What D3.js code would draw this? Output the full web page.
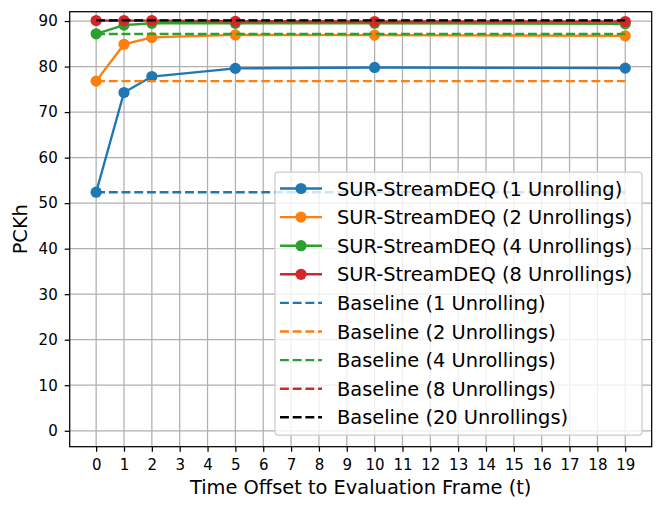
<!DOCTYPE html>
<html>
<head>
<meta charset="utf-8">
<script src="https://cdn.jsdelivr.net/npm/d3@7"></script>
<style>
  body { margin: 0; background: #fff; }
  svg { font-family: "DejaVu Sans", sans-serif; }
</style>
</head>
<body>
<div id="chart"></div>
<script>
"use strict";

// === DATA ===
const offsets = [0, 1, 2, 5, 10, 19];
const sur1 = [52.4, 74.3, 77.8, 79.6, 79.8, 79.65];
const sur2 = [76.8, 84.9, 86.4, 86.95, 86.9, 86.75];
const sur4 = [87.2, 89.1, 89.5, 89.5, 89.5, 89.4];
const sur8 = [90.1, 90.1, 90.1, 89.95, 89.9, 89.9];
const baselineValues = [52.4, 76.8, 87.15, 90.1, 90.15];
const xTicks = d3.range(0, 20);
const yTicks = [0, 10, 20, 30, 40, 50, 60, 70, 80, 90];

const surNames = ["SUR-StreamDEQ (1 Unrolling)", "SUR-StreamDEQ (2 Unrollings)",
  "SUR-StreamDEQ (4 Unrollings)", "SUR-StreamDEQ (8 Unrollings)"];
const baseNames = ["Baseline (1 Unrolling)", "Baseline (2 Unrollings)",
  "Baseline (4 Unrollings)", "Baseline (8 Unrollings)", "Baseline (20 Unrollings)"];
const colors = ["#1f77b4", "#ff7f0e", "#2ca02c", "#d62728", "#000000"];

// === SVG SETUP ===
const W = 664, H = 511;
const margin = { top: 11.7, right: 12.3, bottom: 64.3, left: 69.7 };
const LW = 2.4, DASH = "8.9,3.8", MR = 5.6;

const svg = d3.select("#chart").append("svg")
  .attr("width", W).attr("height", H);

const x = d3.scaleLinear().domain([-0.95, 19.95])
  .range([margin.left, W - margin.right]);
const y = d3.scaleLinear().domain([-3.5, 92.05])
  .range([H - margin.bottom, margin.top]);

// === GRID ===
const grid = svg.append("g").attr("stroke", "#b0b0b0").attr("stroke-width", 1.25);
grid.selectAll(".gx").data(xTicks).enter().append("line")
  .attr("x1", d => x(d)).attr("x2", d => x(d))
  .attr("y1", y.range()[0]).attr("y2", y.range()[1]);
grid.selectAll(".gy").data(yTicks).enter().append("line")
  .attr("y1", d => y(d)).attr("y2", d => y(d))
  .attr("x1", x.range()[0]).attr("x2", x.range()[1]);

// === SERIES ===
const line = d3.line().x(d => x(d[0])).y(d => y(d[1]));
const surSeries = [sur1, sur2, sur4, sur8];

surSeries.forEach((vals, i) => {
  const pts = offsets.map((o, j) => [o, vals[j]]);
  svg.append("path").datum(pts)
    .attr("d", line).attr("fill", "none")
    .attr("stroke", colors[i]).attr("stroke-width", LW);
  svg.append("g").selectAll("circle").data(pts).enter().append("circle")
    .attr("cx", d => x(d[0])).attr("cy", d => y(d[1]))
    .attr("r", MR).attr("fill", colors[i]);
});

baselineValues.forEach((v, i) => {
  svg.append("path").datum([[0, v], [19, v]])
    .attr("d", line).attr("fill", "none")
    .attr("stroke", colors[i]).attr("stroke-width", LW)
    .attr("stroke-dasharray", DASH);
});

// === AXES ===
const xAxis = d3.axisBottom(x).tickValues(xTicks).tickSize(5).tickPadding(8);
const yAxis = d3.axisLeft(y).tickValues(yTicks).tickSize(5).tickPadding(7);

const gx = svg.append("g").attr("transform", `translate(0,${y.range()[0]})`).call(xAxis);
const gy = svg.append("g").attr("transform", `translate(${x.range()[0]},0)`).call(yAxis);
[gx, gy].forEach(g => {
  g.select(".domain").remove();
  g.selectAll("line").attr("stroke", "#000").attr("stroke-width", 1.25);
  g.selectAll("text").attr("font-size", "15px").attr("fill", "#000")
    .attr("font-family", "DejaVu Sans");
});

// frame
svg.append("rect")
  .attr("x", x.range()[0]).attr("y", y.range()[1])
  .attr("width", x.range()[1] - x.range()[0])
  .attr("height", y.range()[0] - y.range()[1])
  .attr("fill", "none").attr("stroke", "#000").attr("stroke-width", 1.25);

// === AXIS LABELS ===
svg.append("text")
  .attr("x", (x.range()[0] + x.range()[1]) / 2).attr("y", 494)
  .attr("text-anchor", "middle").attr("font-size", "19.4px")
  .text("Time Offset to Evaluation Frame (t)");

svg.append("text")
  .attr("transform", `translate(26.5,${(y.range()[0] + y.range()[1]) / 2}) rotate(-90)`)
  .attr("text-anchor", "middle").attr("font-size", "19.4px")
  .text("PCKh");

// === LEGEND ===
const lg = svg.append("g").attr("transform", "translate(275,172)");
lg.append("rect")
  .attr("width", 367).attr("height", 263)
  .attr("rx", 3).attr("fill", "#fff").attr("fill-opacity", 0.8)
  .attr("stroke", "#cccccc").attr("stroke-width", 1.25);

const items = surNames.map((n, i) => ({ name: n, color: colors[i], sur: true }))
  .concat(baseNames.map((n, i) => ({ name: n, color: colors[i], sur: false })));

items.forEach((it, i) => {
  const cy = 16.5 + i * 28.6;
  lg.append("line")
    .attr("x1", 5).attr("x2", 47).attr("y1", cy).attr("y2", cy)
    .attr("stroke", it.color).attr("stroke-width", LW)
    .attr("stroke-dasharray", it.sur ? null : DASH);
  if (it.sur) {
    lg.append("circle").attr("cx", 26).attr("cy", cy).attr("r", MR).attr("fill", it.color);
  }
  lg.append("text")
    .attr("x", 62).attr("y", cy + 7)
    .attr("font-size", "19.4px").attr("fill", "#000")
    .text(it.name);
});
</script>
</body>
</html>
